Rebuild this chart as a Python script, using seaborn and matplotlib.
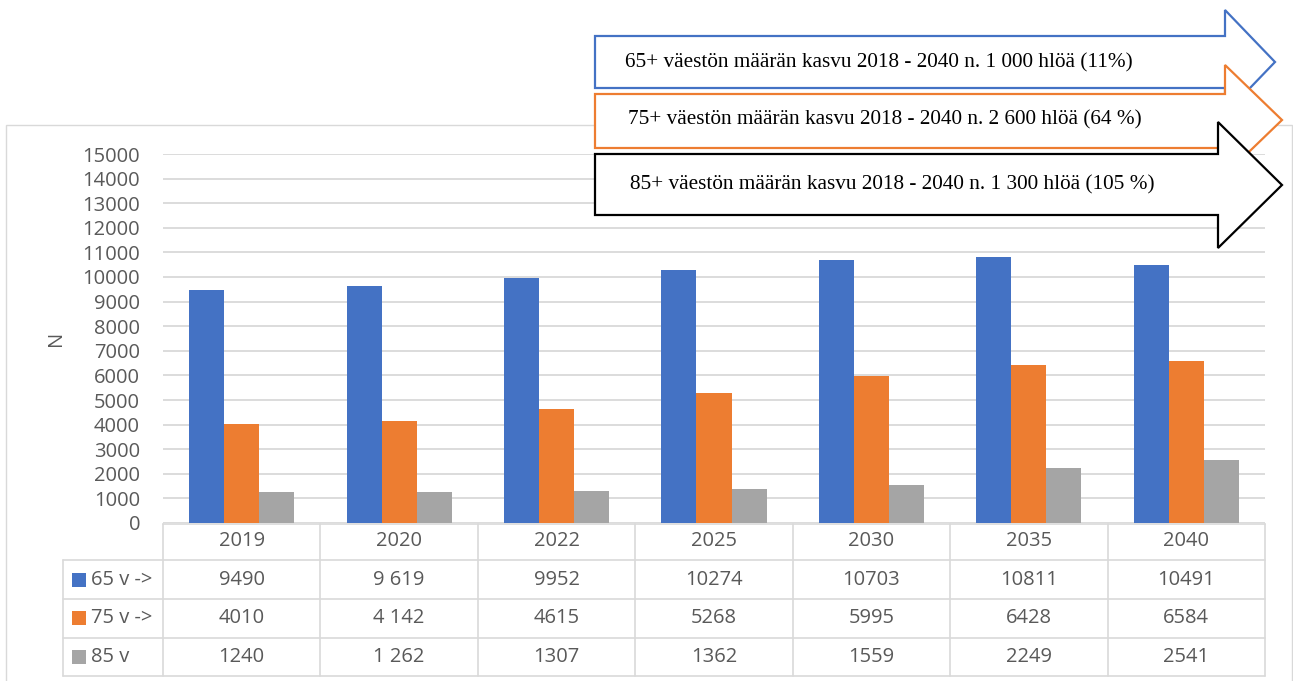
import numpy as np
import pandas as pd
import matplotlib
matplotlib.use('Agg')
import matplotlib.pyplot as plt
import seaborn as sns
from matplotlib.patches import Polygon, Rectangle
from matplotlib.lines import Line2D

# ---------------- data ----------------
years = ['2019', '2020', '2022', '2025', '2030', '2035', '2040']
series = ['65 v ->', '75 v ->', '85 v']
cells_65 = ['9490', '9 619', '9952', '10274', '10703', '10811', '10491']
cells_75 = ['4010', '4 142', '4615', '5268', '5995', '6428', '6584']
cells_85 = ['1240', '1 262', '1307', '1362', '1559', '2249', '2541']
colors = ['#4472C4', '#ED7D31', '#A5A5A5']
yticks = list(range(0, 15001, 1000))
arrow_texts = [
    '65+ väestön määrän kasvu 2018 - 2040 n. 1 000 hlöä (11%)',
    '75+ väestön määrän kasvu 2018 - 2040 n. 2 600 hlöä (64 %)',
    '85+ väestön määrän kasvu 2018 - 2040 n. 1 300 hlöä (105 %)',
]
arrow_colors = ['#4472C4', '#ED7D31', '#000000']

rows = [cells_65, cells_75, cells_85]
records = []
for s, cells in zip(series, rows):
    for y, c in zip(years, cells):
        records.append({'year': y, 'series': s, 'value': int(c.replace(' ', ''))})
df = pd.DataFrame(records)

# ---------------- figure ----------------
W, H = 1293, 681
sns.set_theme(style='white')
plt.rcParams['font.family'] = ['Open Sans', 'DejaVu Sans']
GRAY_TXT = '#595959'
GRID = '#d9d9d9'
FS = 14.5

fig = plt.figure(figsize=(W / 100, H / 100), dpi=100)
fig.patch.set_facecolor('white')


def fx(x):
    return x / W


def fy(y):
    return 1 - y / H


ax = fig.add_axes([fx(163), fy(523), (1265 - 163) / W, (523 - 154) / H])
ax.set_facecolor('none')

sns.barplot(data=df, x='year', y='value', hue='series', order=years,
            hue_order=series, palette=colors, width=0.667, gap=0,
            saturation=1, legend=False, errorbar=None, linewidth=0, ax=ax)

ax.set_xlim(-0.5, len(years) - 0.5)
ax.set_ylim(0, 15000)
ax.set_yticks(yticks)
ax.set_yticklabels([str(t) for t in yticks])
ax.yaxis.grid(True, color=GRID, linewidth=1.3)
ax.xaxis.grid(False)
ax.set_axisbelow(True)
for sp in ax.spines.values():
    sp.set_visible(False)
ax.tick_params(axis='y', length=0, pad=16.5, labelsize=FS, labelcolor=GRAY_TXT)
ax.tick_params(axis='x', length=0, labelbottom=False)
ax.set_xlabel('')
ax.set_ylabel('N', fontsize=FS, color=GRAY_TXT)
ax.yaxis.set_label_coords((66 - 163) / (1265 - 163), 0.5)

# ---------------- chart frame ----------------
frame = Rectangle((fx(6), fy(720)), (1292 - 6) / W, (720 - 125) / H,
                  transform=fig.transFigure, fill=False, edgecolor=GRID,
                  linewidth=1.0, zorder=0.5, clip_on=False)
fig.patches.append(frame)

# ---------------- data table ----------------
def data_x_px(xd):
    return ax.transData.transform((xd, 0))[0]


col_edges = [data_x_px(k - 0.5) for k in range(len(years) + 1)]
col_centers = [data_x_px(k) for k in range(len(years))]
lab_left = 63
row_lines = [523.5, 560, 599, 637.5, 676]
row_centers = [580, 618, 657]
LW = 1.2


def fline(x0, y0, x1, y1):
    fig.lines.append(Line2D([fx(x0), fx(x1)], [fy(y0), fy(y1)],
                            transform=fig.transFigure, color=GRID,
                            linewidth=LW, zorder=2))


fline(col_edges[0], row_lines[0], col_edges[-1], row_lines[0])
for yl in row_lines[1:]:
    fline(lab_left, yl, col_edges[-1], yl)
for xe in col_edges:
    fline(xe, row_lines[0], xe, row_lines[-1])
fline(lab_left, row_lines[1], lab_left, row_lines[-1])

for xc, yr in zip(col_centers, years):
    fig.text(fx(xc), fy(541.5), yr, ha='center', va='center', fontsize=FS,
             color=GRAY_TXT)

for cells, yc, s, c in zip(rows, row_centers, series, colors):
    for xc, txt in zip(col_centers, cells):
        fig.text(fx(xc), fy(yc), txt, ha='center', va='center', fontsize=FS,
                 color=GRAY_TXT)
    fig.patches.append(Rectangle((fx(72), fy(yc + 7)), 14 / W, 14 / H,
                                 transform=fig.transFigure, facecolor=c,
                                 edgecolor='none', zorder=3))
    fig.text(fx(91), fy(yc), s, ha='left', va='center', fontsize=FS,
             color=GRAY_TXT)

# ---------------- arrows ----------------
arrow_geo = [
    # L, T, B, S, HT, X, C, HB
    (595, 36, 88, 1225, 10, 1275, 62, 114),
    (595, 94, 148, 1225, 65, 1282, 120, 175),
    (595, 154, 215, 1218, 122, 1282, 185, 248),
]
text_pos = [(625, 63), (628, 120), (630, 185)]
z = 5
for (L, T, B, S, HT, X, C, HB), col, txt, (tx, ty) in zip(arrow_geo, arrow_colors,
                                                           arrow_texts, text_pos):
    pts = [(L, T), (S, T), (S, HT), (X, C), (S, HB), (S, B), (L, B)]
    poly = Polygon([(fx(a), fy(b)) for a, b in pts], closed=True,
                   transform=fig.transFigure, facecolor='white', edgecolor=col,
                   linewidth=1.6, joinstyle='miter', zorder=z)
    fig.patches.append(poly)
    fig.text(fx(tx), fy(ty), txt, ha='left', va='center', fontsize=15.3,
             family=['Liberation Serif', 'DejaVu Serif'], color='black',
             zorder=z + 1)
    z += 2

fig.savefig('out.png', dpi=100)
